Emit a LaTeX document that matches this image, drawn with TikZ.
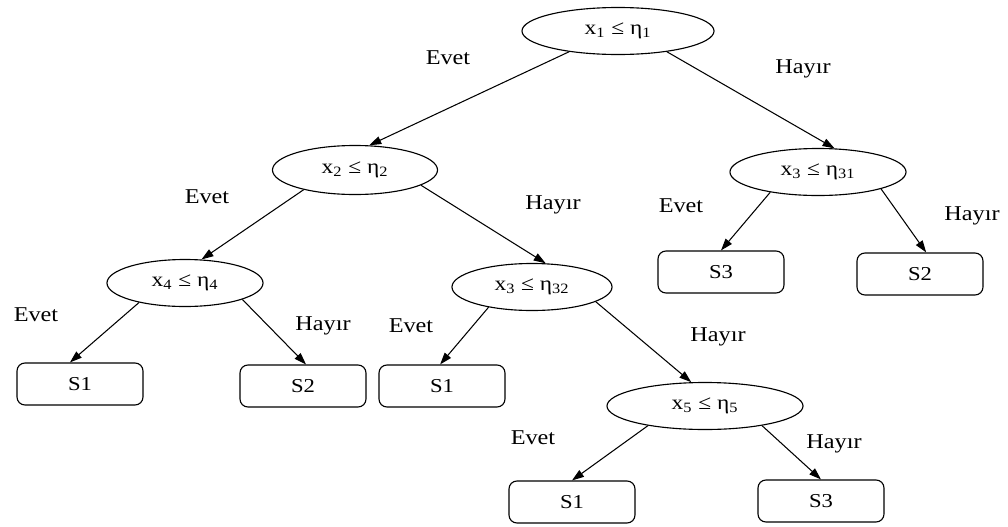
\documentclass[tikz,border=0pt]{standalone}
\usepackage{fontspec}
\usepackage{graphicx}
\setmainfont{Liberation Serif}
\usetikzlibrary{shapes.geometric,arrows.meta}
\newcommand{\wt}[1]{\scalebox{1.15}[1]{#1}}
\newcommand{\cond}[2]{\wt{x\textsubscript{#1} ≤ η\textsubscript{#2}}}
\tikzset{
  test/.style={ellipse, draw, line width=0.8pt, minimum height=1.175cm, inner sep=0pt, font=\fontsize{14.5}{16}\selectfont},
  leaf/.style={rectangle, rounded corners=0.2cm, draw, line width=0.8pt, minimum width=3.15cm, minimum height=1.05cm, inner sep=0pt, font=\fontsize{14}{16}\selectfont},
  edge/.style={line width=0.75pt, -{Triangle[length=0.3cm,width=0.2cm]}},
  lbl/.style={inner sep=0pt, font=\fontsize{15}{17}\selectfont}
}
\begin{document}
\begin{tikzpicture}[x=0.025cm, y=-0.025cm]
\useasboundingbox (0,0) rectangle (1008,527);
% decision nodes
\node[test, minimum width=4.8cm]   (r)   at (618,31)  {\cond{1}{1}};
\node[test, minimum width=4.125cm, minimum height=1.225cm] (n2)  at (355,170) {\cond{2}{2}};
\node[test, minimum width=4.4cm]   (n31) at (818,172) {\cond{3}{31}};
\node[test, minimum width=3.9cm]   (n4)  at (185,283) {\cond{4}{4}};
\node[test, minimum width=4.0cm]   (n32) at (532,287) {\cond{3}{32}};
\node[test, minimum width=4.9cm]   (n5)  at (705,406) {\cond{5}{5}};
% leaves
\node[leaf] (s3a) at (721,272) {\wt{S3}};
\node[leaf] (s2b) at (920,274) {\wt{S2}};
\node[leaf] (s1a) at (80,384)  {\wt{S1}};
\node[leaf] (s2a) at (303,386) {\wt{S2}};
\node[leaf] (s1b) at (442,386) {\wt{S1}};
\node[leaf] (s1c) at (572,502) {\wt{S1}};
\node[leaf] (s3c) at (821,501) {\wt{S3}};
% edges
\draw[edge] (r.203)   -- (n2.60);
\draw[edge] (r.337)   -- (n31.55);
\draw[edge] (n2.201)  -- (n4.55);
\draw[edge] (n2.347)  -- (n32.60);
\draw[edge] (n31.203) -- (s3a.north);
\draw[edge] (n31.345) -- (s2b.74);
\draw[edge] (n4.203)  -- (s1a.115);
\draw[edge] (n4.344)  -- (s2a.82);
\draw[edge] (n32.205) -- (s1b.95);
\draw[edge] (n32.347) -- (n5.120);
\draw[edge] (n5.199)  -- (s1c.north);
\draw[edge] (n5.341)  -- (s3c.north);
% labels
\node[lbl] (l1) at (448,58)  {\wt{Evet}};
\node[lbl] (l2) at (803,69)  {\wt{Hayır}};
\node[lbl] (l3) at (207,197) {\wt{Evet}};
\node[lbl] (l4) at (553,205) {\wt{Hayır}};
\node[lbl] (l5) at (681,206) {\wt{Evet}};
\node[lbl] (l6) at (972,216) {\wt{Hayır}};
\node[lbl] (l7) at (36,315)  {\wt{Evet}};
\node[lbl] (l8) at (323,326) {\wt{Hayır}};
\node[lbl] (l9) at (411,326) {\wt{Evet}};
\node[lbl] (l10) at (718,337) {\wt{Hayır}};
\node[lbl] (l11) at (533,438) {\wt{Evet}};
\node[lbl] (l12) at (834,444) {\wt{Hayır}};
\end{tikzpicture}
\end{document}
